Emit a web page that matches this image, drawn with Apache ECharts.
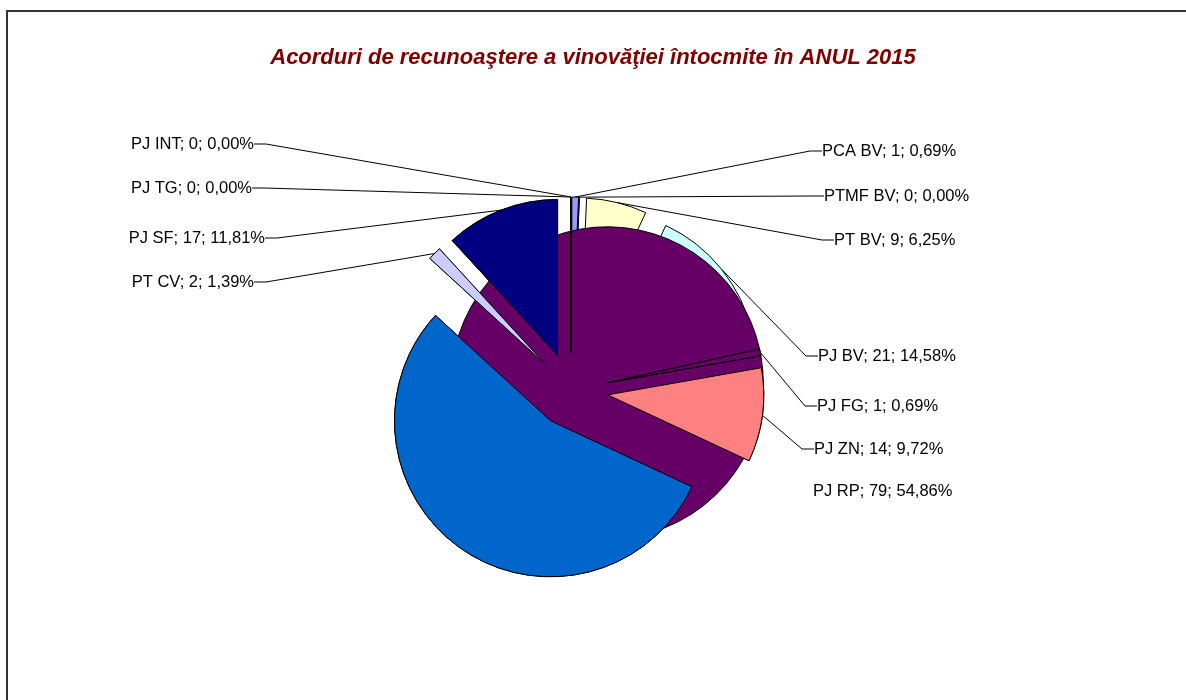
<!DOCTYPE html>
<html>
<head>
<meta charset="utf-8">
<script src="https://cdn.jsdelivr.net/npm/echarts@6/dist/echarts.min.js"></script>
<style>
  html, body { margin: 0; padding: 0; background: #ffffff; }
  #frame { position: absolute; left: 6px; top: 10px; width: 1300px; height: 800px; border: 2px solid #333333; box-sizing: border-box; }
  #chart { position: absolute; left: 0; top: 0; width: 1186px; height: 700px; }
</style>
</head>
<body>
<div id="frame"></div>
<div id="chart"></div>
<script>
// ---- data ----
const titleText = 'Acorduri de recunoaştere a vinovăţiei întocmite în ANUL 2015';
const categories = ['PCA BV', 'PTMF BV', 'PT BV', 'PJ BV', 'PJ FG', 'PJ ZN', 'PJ RP', 'PT CV', 'PJ SF', 'PJ TG', 'PJ INT'];
const values = [1, 0, 9, 21, 1, 14, 79, 2, 17, 0, 0];

// ---- styles / layout ----
const colors = ['#9999FF', '#993366', '#FFFFCC', '#CCFFFF', '#660066', '#FF8080', '#0066CC', '#CCCCFF', '#000080', '#FF00FF', '#FFFF00'];
const pieCenter = [571, 390];
const pieRadius = 156;
const explode = 37;
// label anchor positions (Excel manual label placement): [x, y, align]
const labelPos = [
  [822, 151, 'left'],  [824, 196, 'left'],  [834, 240, 'left'],
  [818, 356, 'left'],  [817, 406, 'left'],  [814, 449, 'left'],
  [813, 491, 'left'],  [254, 282, 'right'], [265, 238, 'right'],
  [252, 188, 'right'], [254, 144, 'right']
];
const overlayFrom = 4; // slices drawn above the purple rendering artifact
const noLineIndex = 6; // PJ RP label has no leader line

const total = values.reduce((a, b) => a + b, 0);
const fmtPct = v => (v / total * 100).toFixed(2).replace('.', ',') + '%';

// PJ FG slice: its exploded wedge is rendered (artifact) as an almost full purple disc
const fgIdx = 4;
let cumBefore = 0;
for (let i = 0; i < fgIdx; i++) cumBefore += values[i];
const fgMidDeg = (cumBefore + values[fgIdx] / 2) / total * 360;
const fgEndDeg = (cumBefore + values[fgIdx]) / total * 360;
const fgRad = fgMidDeg * Math.PI / 180;
const artifactCenter = [pieCenter[0] + explode * Math.sin(fgRad), pieCenter[1] - explode * Math.cos(fgRad)];

const border = { borderColor: '#000000', borderWidth: 1 };
const hidden = { color: 'rgba(0,0,0,0)', borderWidth: 0 };

const baseData = categories.map((n, i) => ({
  name: n, value: values[i], selected: true,
  itemStyle: Object.assign({ color: colors[i] }, border),
  select: { itemStyle: Object.assign({ color: colors[i] }, border) }
}));
const topData = categories.map((n, i) => {
  const st = i >= overlayFrom ? Object.assign({ color: colors[i] }, border) : hidden;
  return { name: n, value: values[i], selected: true, itemStyle: st, select: { itemStyle: st } };
});
const labelData = categories.map((n, i) => ({
  name: n, value: values[i],
  labelLine: { show: i !== noLineIndex }
}));

const common = {
  type: 'pie', center: pieCenter, startAngle: 90, clockwise: true,
  silent: true, animation: false, avoidLabelOverlap: false,
  emphasis: { disabled: true }
};

const chart = echarts.init(document.getElementById('chart'), null, { renderer: 'canvas' });
chart.setOption({
  backgroundColor: 'transparent',
  animation: false,
  title: {
    text: titleText, left: 'center', top: 42,
    textStyle: { fontFamily: 'Liberation Sans, Arial, sans-serif', fontSize: 22, fontWeight: 'bold', fontStyle: 'italic', color: '#800000' }
  },
  series: [
    Object.assign({}, common, {
      name: 'base', radius: pieRadius, selectedMode: 'multiple', selectedOffset: explode,
      label: { show: false }, labelLine: { show: false }, data: baseData, z: 1
    }),
    Object.assign({}, common, {
      name: 'artifact', center: artifactCenter, radius: pieRadius, startAngle: 90 - fgEndDeg,
      label: { show: false }, labelLine: { show: false }, z: 2,
      data: [
        { name: 'a', value: total - values[fgIdx], itemStyle: Object.assign({ color: colors[fgIdx] }, border) },
        { name: 'b', value: values[fgIdx], itemStyle: hidden }
      ]
    }),
    Object.assign({}, common, {
      name: 'top', radius: pieRadius, selectedMode: 'multiple', selectedOffset: explode,
      label: { show: false }, labelLine: { show: false }, data: topData, z: 3
    }),
    Object.assign({}, common, {
      name: 'labels', radius: pieRadius + explode, z: 4,
      itemStyle: hidden,
      label: {
        show: true, position: 'outer', color: '#000000',
        fontFamily: 'Liberation Sans, Arial, sans-serif', fontSize: 16.5,
        formatter: p => p.name + '; ' + p.value + '; ' + fmtPct(p.value)
      },
      labelLine: { show: true, length: 10, length2: 12, lineStyle: { color: '#000000', width: 1 } },
      labelLayout: params => {
        const p = labelPos[params.dataIndex];
        return { x: p[0], y: p[1], align: p[2], verticalAlign: 'middle' };
      },
      data: labelData
    })
  ]
});
</script>
</body>
</html>
